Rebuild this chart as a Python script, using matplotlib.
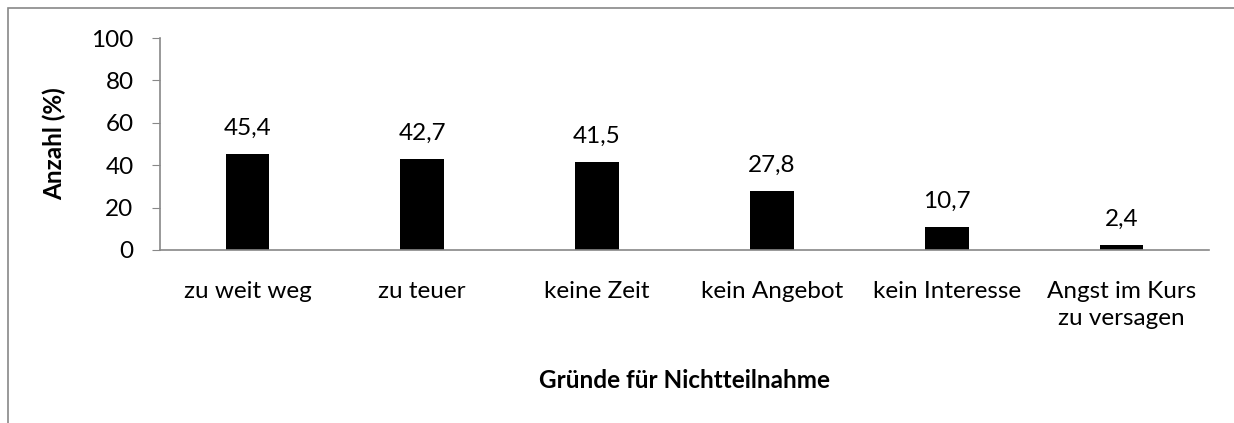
import matplotlib
matplotlib.use("Agg")
import matplotlib.pyplot as plt
from matplotlib.patches import Rectangle

plt.rcParams['font.family'] = ['Lato', 'DejaVu Sans']

categories = ["zu weit weg", "zu teuer", "keine Zeit", "kein Angebot",
              "kein Interesse", "Angst im Kurs\nzu versagen"]
values = [45.4, 42.7, 41.5, 27.8, 10.7, 2.4]
value_labels = ["45,4", "42,7", "41,5", "27,8", "10,7", "2,4"]
y_ticks = [0, 20, 40, 60, 80, 100]

W, H = 1234, 423
FS = 17.5
fig = plt.figure(figsize=(W / 100, H / 100), dpi=100)

# outer chart-area frame (only top and left edges are visible)
fig.patches.append(Rectangle((8 / W, -0.1), 1.2, (H - 8) / H + 0.1,
                             transform=fig.transFigure, fill=False,
                             edgecolor="#888888", linewidth=1.2))

ax = fig.add_axes([160 / W, 1 - 250 / H, (1209 - 160) / W, (250 - 38) / H])
x = range(len(categories))
ax.bar(x, values, width=0.25, color="black")
ax.set_xlim(-0.5, len(categories) - 0.5)
ax.set_ylim(0, 100)
ax.set_yticks(y_ticks)
ax.set_xticks(list(x))
ax.set_xticklabels(categories, fontsize=FS, linespacing=1.35)

for xi, v, lab in zip(x, values, value_labels):
    ax.annotate(lab, (xi, v), xytext=(0, 11), textcoords="offset points",
                ha="center", va="bottom", fontsize=FS)

for s in ["top", "right"]:
    ax.spines[s].set_visible(False)
for s in ["left", "bottom"]:
    ax.spines[s].set_color("#888888")
    ax.spines[s].set_linewidth(1.2)

ax.tick_params(axis="y", length=6, color="#888888", labelsize=FS, pad=13)
ax.tick_params(axis="x", length=0, pad=22)

ax.set_ylabel("Anzahl (%)", fontsize=FS, fontweight="bold", labelpad=18)
ax.set_xlabel("Gründe für Nichtteilnahme", fontsize=FS, fontweight="bold", labelpad=29)

fig.savefig("out.png", dpi=100)
